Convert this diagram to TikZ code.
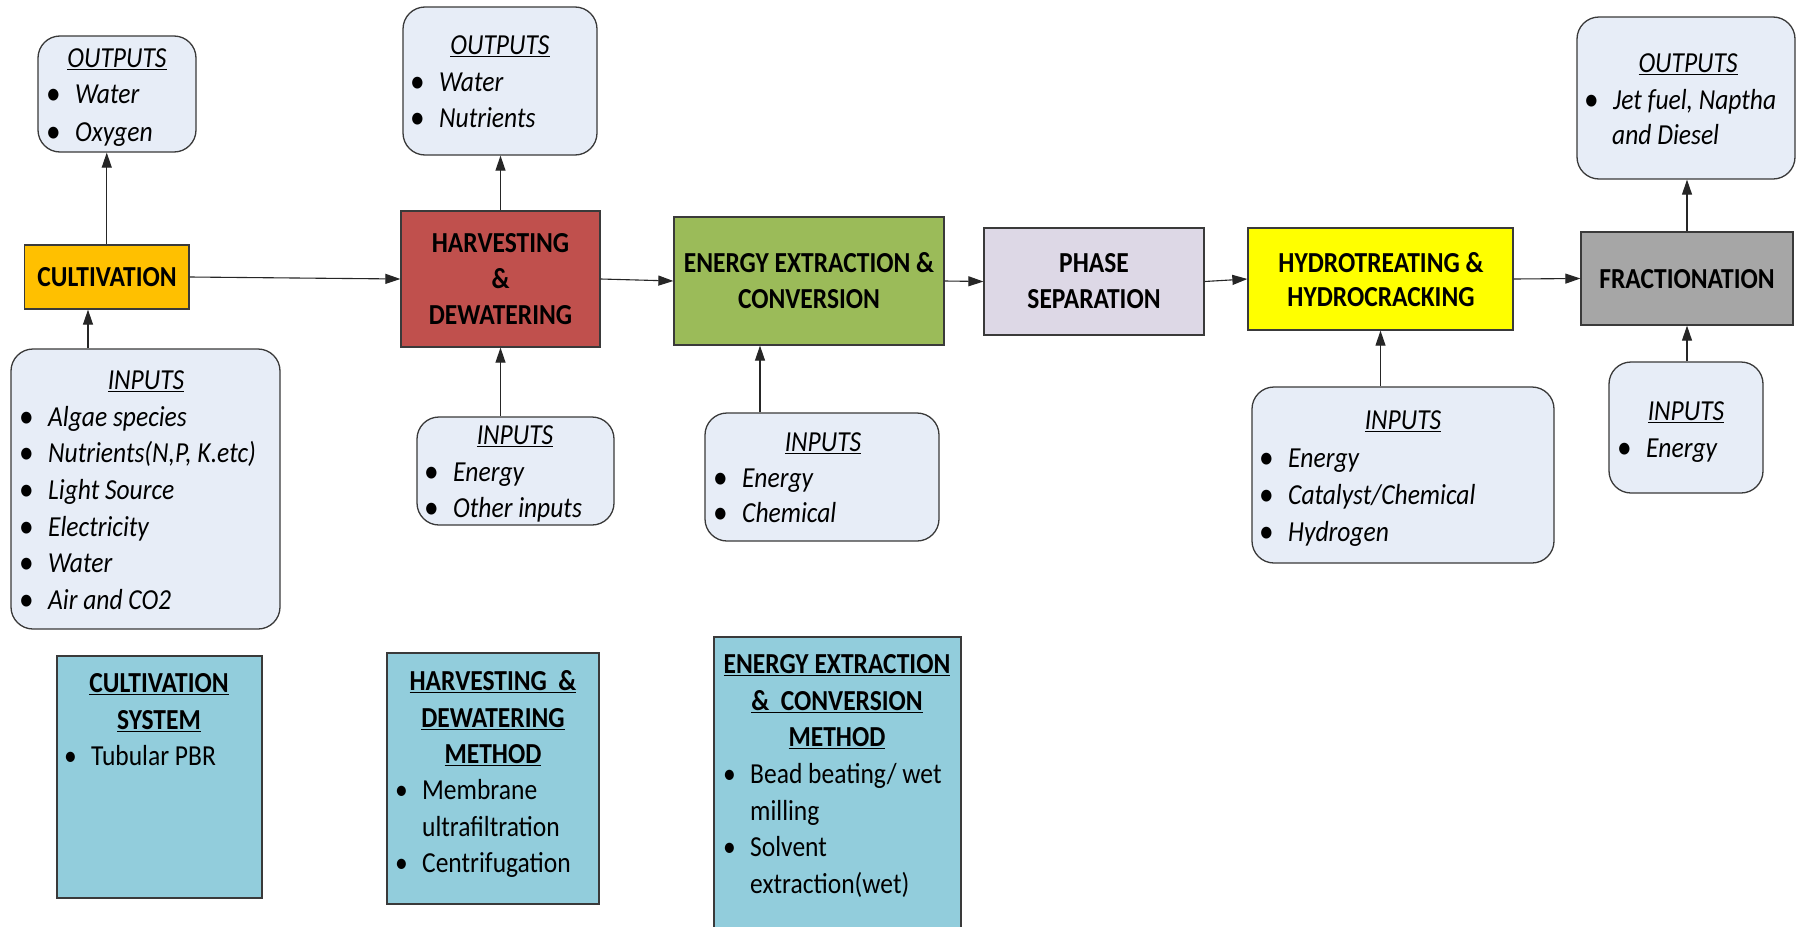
\documentclass[tikz,border=0pt]{standalone}
\usepackage{fontspec}
\usepackage{graphicx}
\setmainfont{Carlito}[FakeStretch=0.88]
\usetikzlibrary{arrows.meta}
\definecolor{cultc}{HTML}{FFC000}
\definecolor{harvc}{HTML}{C0504D}
\definecolor{enec}{HTML}{9BBB59}
\definecolor{phasec}{HTML}{DDD8E6}
\definecolor{hydroc}{HTML}{FFFF00}
\definecolor{fracc}{HTML}{A6A6A6}
\definecolor{lboxc}{HTML}{E7EDF7}
\definecolor{methc}{HTML}{92CDDC}
\definecolor{edgec}{HTML}{3A3A3A}
\newcommand\fs{\fontsize{29}{37}\selectfont}
\newcommand\bul{\makebox[28pt][l]{\hspace{-1pt}\raisebox{-0.05em}{\scalebox{1.15}{\upshape\textbullet}}}}
\newcommand\mbul{\makebox[28pt][l]{\hspace{1pt}\textbullet}}
\tikzset{
  proc/.style={draw=edgec, line width=1.3pt, inner sep=0},
  rbox/.style={draw=edgec, fill=lboxc, rounded corners=22pt, line width=1.3pt, inner sep=0},
  mbox/.style={draw=edgec, fill=methc, line width=1.3pt, inner sep=0},
  arr/.style={-{Triangle[length=15pt,width=10pt]}, line width=1.1pt, draw=black!85},
  tl/.style={inner sep=0, text height=19pt, text depth=0pt},
  it/.style={tl, anchor=west, font=\fs\itshape},
  up/.style={tl, anchor=west, font=\fs},
  ttl/.style={tl, anchor=center, font=\fs\itshape},
  btl/.style={tl, anchor=center, font=\fs\bfseries}
}
\begin{document}
\begin{tikzpicture}[x=1pt,y=-1pt]
\useasboundingbox (0,0) rectangle (1798,926);
\fill[white] (0,0) rectangle (1798,926);
% process boxes
\node[proc, fill=cultc, minimum width=164.5pt, minimum height=64pt] (cult) at (106.75,277) {};
\node[proc, fill=harvc, minimum width=199pt, minimum height=136pt] (harv) at (500.5,279) {};
\node[proc, fill=enec, minimum width=270pt, minimum height=128pt] (ener) at (809,281) {};
\node[proc, fill=phasec, minimum width=220pt, minimum height=107pt] (phase) at (1094,281.5) {};
\node[proc, fill=hydroc, minimum width=265pt, minimum height=102pt] (hydro) at (1380.5,279) {};
\node[proc, fill=fracc, minimum width=212pt, minimum height=93pt] (frac) at (1687,278.5) {};
% rounded boxes
\node[rbox, minimum width=158pt, minimum height=116pt] (out1) at (117,94) {};
\node[rbox, minimum width=194pt, minimum height=148pt] (out2) at (500,81) {};
\node[rbox, minimum width=218pt, minimum height=162pt] (out3) at (1686,98) {};
\node[rbox, minimum width=269pt, minimum height=280pt] (in1) at (145.5,489) {};
\node[rbox, minimum width=197pt, minimum height=108pt] (in2) at (515.5,471) {};
\node[rbox, minimum width=234pt, minimum height=128pt] (in3) at (822,477) {};
\node[rbox, minimum width=302pt, minimum height=176pt] (in4) at (1403,475) {};
\node[rbox, minimum width=154pt, minimum height=131pt] (in5) at (1686,427.5) {};
% method boxes
\node[mbox, minimum width=205pt, minimum height=242pt] (m1) at (159.5,777) {};
\node[mbox, minimum width=212pt, minimum height=251pt] (m2) at (493,778.5) {};
\node[mbox, minimum width=247pt, minimum height=295pt] (m3) at (837.5,784.5) {};
% arrows
\coordinate (ax1) at (88,0);
\coordinate (ax3) at (760,0);
\draw[arr] (cult.east) -- (harv.west);
\draw[arr] (harv.east) -- (ener.west);
\draw[arr] (ener.east) -- (phase.west);
\draw[arr] (phase.east) -- (hydro.west);
\draw[arr] (hydro.east) -- (frac.west);
\draw[arr] (cult.north) -- (cult.north |- out1.south);
\draw[arr] (in1.north -| ax1) -- (cult.south -| ax1);
\draw[arr] (harv.north) -- (harv.north |- out2.south);
\draw[arr] (in2.north -| harv.south) -- (harv.south);
\draw[arr] (in3.north -| ax3) -- (ener.south -| ax3);
\draw[arr] (in4.north -| hydro.south) -- (hydro.south);
\draw[arr] (frac.north) -- (frac.north |- out3.south);
\draw[arr] (in5.north -| frac.south) -- (frac.south);
% process labels
\node[btl] (tcult) at (107,277) {CULTIVATION};
\node[btl] (th1) at (500.5,243) {HARVESTING};
\node[btl] (th2) at (500.5,279) {\&};
\node[btl] (th3) at (500.5,315) {DEWATERING};
\node[btl] (te1) at (809,263) {ENERGY EXTRACTION \&};
\node[btl] (te2) at (809,299) {CONVERSION};
\node[btl] (tp1) at (1094,263) {PHASE};
\node[btl] (tp2) at (1094,299) {SEPARATION};
\node[btl] (thy1) at (1381,263) {HYDROTREATING \&};
\node[btl] (thy2) at (1381,297) {HYDROCRACKING};
\node[btl] (tf) at (1687,279) {FRACTIONATION};
% outputs 1
\node[ttl] (o1t) at (117,58) {\underline{OUTPUTS}};
\node[it] (o1a) at (47,94) {\bul Water};
\node[it] (o1b) at (47,132) {\bul Oxygen};
% outputs 2
\node[ttl] (o2t) at (500,45) {\underline{OUTPUTS}};
\node[it] (o2a) at (411,82) {\bul Water};
\node[it] (o2b) at (411,118) {\bul Nutrients};
% outputs 3
\node[ttl] (o3t) at (1688,63) {\underline{OUTPUTS}};
\node[it] (o3a) at (1585,100) {\bul Jet fuel, Naptha};
\node[it] (o3b) at (1612,135) {and Diesel};
% inputs 1
\node[ttl] (i1t) at (146,380) {\underline{INPUTS}};
\node[it] (i1a) at (20,417) {\bul Algae species};
\node[it] (i1b) at (20,453) {\bul Nutrients(N,P, K.etc)};
\node[it] (i1c) at (20,490) {\bul Light Source};
\node[it] (i1d) at (20,527) {\bul Electricity};
\node[it] (i1e) at (20,563) {\bul Water};
\node[it] (i1f) at (20,600) {\bul Air and CO2};
% inputs 2
\node[ttl] (i2t) at (515,435) {\underline{INPUTS}};
\node[it] (i2a) at (425,472) {\bul Energy};
\node[it] (i2b) at (425,508) {\bul Other inputs};
% inputs 3
\node[ttl] (i3t) at (823,442) {\underline{INPUTS}};
\node[it] (i3a) at (714,478) {\bul Energy};
\node[it] (i3b) at (714,513) {\bul Chemical};
% inputs 4
\node[ttl] (i4t) at (1403,420) {\underline{INPUTS}};
\node[it] (i4a) at (1260,458) {\bul Energy};
\node[it] (i4b) at (1260,495) {\bul Catalyst/Chemical};
\node[it] (i4c) at (1260,532) {\bul Hydrogen};
% inputs 5
\node[ttl] (i5t) at (1686,411) {\underline{INPUTS}};
\node[it] (i5a) at (1618,448) {\bul Energy};
% method 1
\node[btl] (m1t1) at (159,683) {\underline{CULTIVATION}};
\node[btl] (m1t2) at (159,720) {\underline{SYSTEM}};
\node[up] (m1a) at (63,756) {\mbul Tubular PBR};
% method 2
\node[btl] (m2t1) at (493,681) {\underline{HARVESTING\ \ \&}};
\node[btl] (m2t2) at (493,718) {\underline{DEWATERING}};
\node[btl] (m2t3) at (493,754) {\underline{METHOD}};
\node[up] (m2a) at (394,790) {\mbul Membrane};
\node[up] (m2b) at (422,827) {ultrafiltration};
\node[up] (m2c) at (394,863) {\mbul Centrifugation};
% method 3
\node[btl] (m3t1) at (837,664) {\underline{ENERGY EXTRACTION}};
\node[btl] (m3t2) at (837,701) {\underline{\&\ \ CONVERSION}};
\node[btl] (m3t3) at (837,737) {\underline{METHOD}};
\node[up] (m3a) at (722,774) {\mbul Bead beating/ wet};
\node[up] (m3b) at (750,811) {milling};
\node[up] (m3c) at (722,847) {\mbul Solvent};
\node[up] (m3d) at (750,884) {extraction(wet)};
\end{tikzpicture}
\end{document}
